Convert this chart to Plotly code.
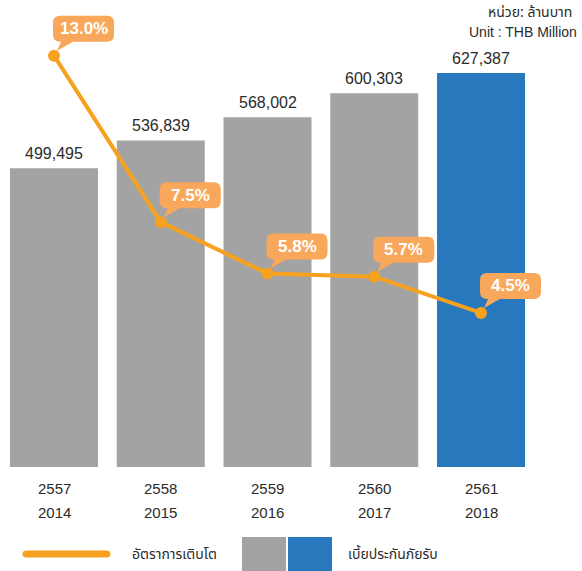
import plotly.graph_objects as go

# ---------------- data ----------------
years_be = ["2557", "2558", "2559", "2560", "2561"]
years_ad = ["2014", "2015", "2016", "2017", "2018"]
premium = [499495, 536839, 568002, 600303, 627387]
growth = [13.0, 7.5, 5.8, 5.7, 4.5]
growth_labels = ["13.0%", "7.5%", "5.8%", "5.7%", "4.5%"]
legend_line = "อัตราการเติบโต"
legend_bar = "เบี้ยประกันภัยรับ"
unit_th = "หน่วย: ล้านบาท"
unit_en = "Unit : THB Million"

# ---------------- style ----------------
W, H = 582, 571
MB = 104
PH = H - MB
GRAY = "#A3A3A3"
BLUE = "#2878BD"
ORANGE = "#F7A21E"
CALLOUT = "#F9A75A"
TXT = "#2B2B2B"
NUM_FONT = "Liberation Sans, Arial, Helvetica, sans-serif"
THAI_FONT = "Noto Sans Thai, Noto Sans Thai Looped, Tahoma, Leelawadee UI, sans-serif"

n = len(premium)
xs = list(range(n))
bar_colors = [GRAY] * (n - 1) + [BLUE]


def X(px):
    return px / W


def Y(py):
    return (PH - py) / PH


fig = go.Figure()
fig.add_trace(go.Bar(
    x=xs, y=premium, width=0.824, marker=dict(color=bar_colors, line=dict(width=0)),
    name=legend_bar, showlegend=False, hoverinfo="skip",
))
fig.add_trace(go.Scatter(
    x=xs, y=growth, yaxis="y2", mode="lines+markers",
    line=dict(color=ORANGE, width=4),
    marker=dict(color=ORANGE, size=12),
    name=legend_line, showlegend=False, hoverinfo="skip",
))

shapes = []
annotations = []

# bar value labels
for i, v in zip(xs, premium):
    annotations.append(dict(
        x=i, y=v, xref="x", yref="y", text=f"{v:,}", showarrow=False,
        yanchor="bottom", yshift=4, font=dict(family=NUM_FONT, size=16, color=TXT),
    ))

# speech-bubble callouts
bx0, bx1, by0, by1, r = -1, 60, 14, 40, 7
tail_a, tail_b, tip = bx0 + 8, bx0 + 20, (3, 5)
bubble = (
    f"M {bx0 + r},{by1} L {bx1 - r},{by1} Q {bx1},{by1} {bx1},{by1 - r} "
    f"L {bx1},{by0 + r} Q {bx1},{by0} {bx1 - r},{by0} "
    f"L {tail_b},{by0} L {tip[0]},{tip[1]} L {tail_a},{by0} "
    f"L {bx0 + r},{by0} Q {bx0},{by0} {bx0},{by0 + r} "
    f"L {bx0},{by1 - r} Q {bx0},{by1} {bx0 + r},{by1} Z"
)
for i, g, lab in zip(xs, growth, growth_labels):
    shapes.append(dict(
        type="path", xref="x", yref="y2", xsizemode="pixel", ysizemode="pixel",
        xanchor=i, yanchor=g, path=bubble, fillcolor=CALLOUT,
        line=dict(width=0), layer="above",
    ))
    annotations.append(dict(
        x=i, y=g, xref="x", yref="y2", text=f"<b>{lab}</b>", showarrow=False,
        xshift=(bx0 + bx1) / 2, yshift=(by0 + by1) / 2,
        font=dict(family=NUM_FONT, size=17, color="white"),
    ))

# category labels (two lines)
for i, a, b in zip(xs, years_be, years_ad):
    annotations.append(dict(x=i, y=Y(489), xref="x", yref="paper", text=a, showarrow=False,
                            yanchor="middle", font=dict(family=NUM_FONT, size=15, color=TXT)))
    annotations.append(dict(x=i, y=Y(512), xref="x", yref="paper", text=b, showarrow=False,
                            yanchor="middle", font=dict(family=NUM_FONT, size=15, color=TXT)))

# unit text
annotations.append(dict(x=X(574), y=Y(13), xref="paper", yref="paper", text=unit_th, showarrow=False,
                        xanchor="right", yanchor="middle", font=dict(family=THAI_FONT, size=14, color=TXT)))
annotations.append(dict(x=X(579), y=Y(32), xref="paper", yref="paper", text=unit_en, showarrow=False,
                        xanchor="right", yanchor="middle", font=dict(family=NUM_FONT, size=14, color=TXT)))

# custom legend
lx0, lx1, ly, lh = 23, 110, 554, 7
rr = lh / 2
leg_path = (
    f"M {X(lx0 + rr)},{Y(ly - rr)} L {X(lx1 - rr)},{Y(ly - rr)} "
    f"Q {X(lx1 + 0.5)},{Y(ly - rr)} {X(lx1 + 0.5)},{Y(ly)} "
    f"Q {X(lx1 + 0.5)},{Y(ly + rr)} {X(lx1 - rr)},{Y(ly + rr)} "
    f"L {X(lx0 + rr)},{Y(ly + rr)} Q {X(lx0 - 0.5)},{Y(ly + rr)} {X(lx0 - 0.5)},{Y(ly)} "
    f"Q {X(lx0 - 0.5)},{Y(ly - rr)} {X(lx0 + rr)},{Y(ly - rr)} Z"
)
shapes.append(dict(type="path", xref="paper", yref="paper", path=leg_path,
                   fillcolor=ORANGE, line=dict(width=0)))
shapes.append(dict(type="rect", xref="paper", yref="paper", x0=X(242), x1=X(286), y0=Y(537), y1=Y(572),
                   fillcolor=GRAY, line=dict(width=0)))
shapes.append(dict(type="rect", xref="paper", yref="paper", x0=X(288), x1=X(332), y0=Y(537), y1=Y(572),
                   fillcolor=BLUE, line=dict(width=0)))
annotations.append(dict(x=X(130), y=Y(554), xref="paper", yref="paper", text=legend_line, showarrow=False,
                        xanchor="left", yanchor="middle", font=dict(family=THAI_FONT, size=14, color=TXT)))
annotations.append(dict(x=X(346), y=Y(554), xref="paper", yref="paper", text=legend_bar, showarrow=False,
                        xanchor="left", yanchor="middle", font=dict(family=THAI_FONT, size=14, color=TXT)))

fig.update_layout(
    width=W, height=H,
    margin=dict(l=0, r=0, t=0, b=MB, pad=0),
    paper_bgcolor="white", plot_bgcolor="white",
    showlegend=False,
    xaxis=dict(range=[-0.506, 4.946], showticklabels=False, showgrid=False, zeroline=False,
               showline=False, ticks="", fixedrange=True),
    yaxis=dict(range=[98108, 725459], showticklabels=False, showgrid=False, zeroline=False,
               showline=False, ticks="", fixedrange=True),
    yaxis2=dict(range=[-0.589, 14.839], overlaying="y", showticklabels=False, showgrid=False,
                zeroline=False, showline=False, ticks="", fixedrange=True),
    shapes=shapes, annotations=annotations,
)

fig.write_html(
    "out.html",
    config={"displayModeBar": False},
    post_script="document.body.style.margin='0';document.body.style.padding='0';"
                "document.documentElement.style.overflow='hidden';",
)
